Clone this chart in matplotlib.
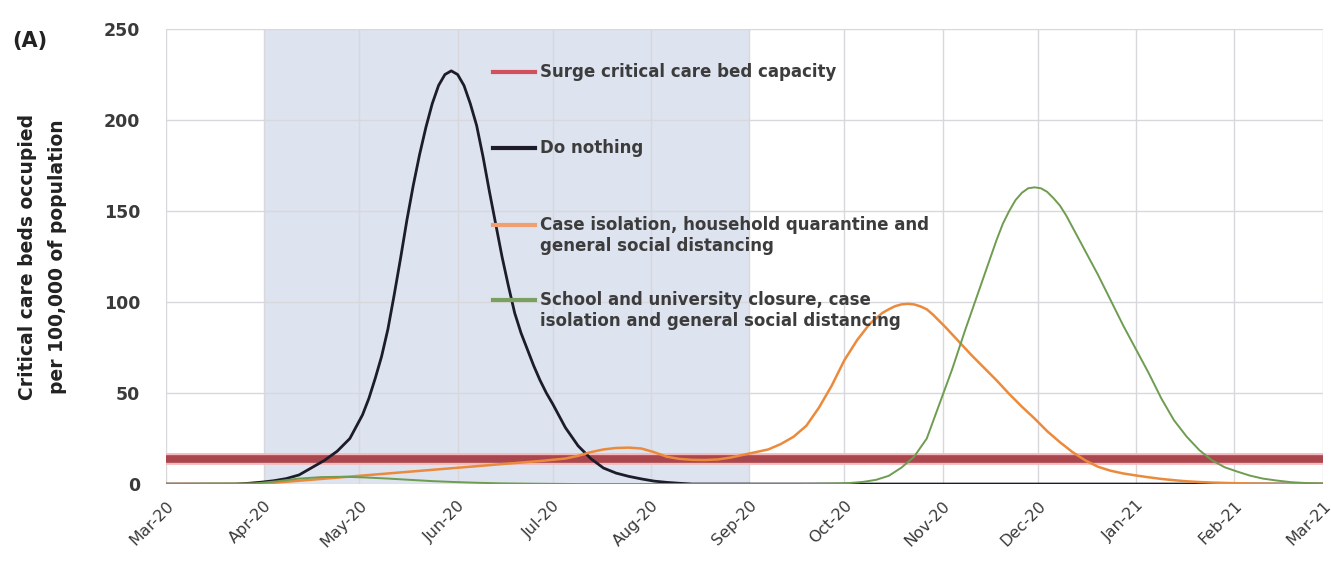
import numpy as np
import matplotlib
matplotlib.use("Agg")
import matplotlib.pyplot as plt
import matplotlib.dates as mdates
from matplotlib.lines import Line2D

plt.rcParams['font.family'] = ['DejaVu Sans']

START = np.datetime64('2020-03-01')
END = np.datetime64('2021-03-01')

# surge critical care bed capacity (beds per 100,000)
surge_capacity = 14

# "Do nothing" scenario, days after 1 Mar 2020
nothing_days = [0, 22, 26, 30, 34, 38, 42, 46, 50, 54, 58, 62, 64, 66, 68, 70, 72, 74, 76,
                78, 80, 82, 84, 86, 88, 90, 92, 94, 96, 98, 100, 102, 104, 106, 108, 110,
                112, 114, 116, 118, 120, 122, 126, 130, 134, 138, 142, 146, 150, 154, 158,
                162, 166, 365]
nothing_vals = [0, 0, 0.4, 1, 1.8, 3, 5, 9, 13, 18, 25, 38, 47, 58, 70, 85, 104, 124, 145,
                164, 181, 196, 209, 219, 225, 227, 225, 219, 209, 197, 180, 161, 143, 125, 109, 94,
                83, 74, 65, 57, 50, 44, 31, 21, 14, 8.8, 6, 4.2, 2.8, 1.6, 0.9,
                0.4, 0, 0]

# case isolation, household quarantine and general social distancing
case_days = [0, 28, 35, 42, 49, 56, 63, 70, 77, 84, 91, 98, 105, 112, 119, 126, 130, 134,
             138, 142, 146, 150, 154, 158, 162, 166, 170, 174, 178, 182, 186, 190, 194, 198,
             202, 206, 210, 214, 218, 222, 226, 228, 230, 232, 234, 236, 238, 240, 242, 246,
             250, 254, 258, 262, 266, 270, 274, 278, 282, 286, 290, 294, 298, 302, 306, 310,
             314, 318, 322, 326, 330, 336, 344, 352, 365]
case_vals = [0, 0, 0.8, 1.8, 2.8, 3.8, 4.8, 5.8, 6.8, 7.8, 8.8, 9.8, 10.8, 11.8, 12.8, 14, 15.5,
             17.5, 19, 19.8, 20, 19.5, 17.5, 15, 13.8, 13.3, 13.2, 13.5, 14.5, 16, 17.5, 19, 22,
             26, 32, 42, 54, 68, 79, 88, 94, 96, 97.7, 98.7, 99, 98.7, 97.6, 96, 93, 86,
             78.5, 71, 64, 57, 49.5, 42.5, 36, 29, 23, 17.5, 13, 9.5, 7.3, 5.8, 4.7, 3.7,
             2.8, 2.1, 1.5, 1.1, 0.8, 0.5, 0.2, 0, 0]

# school and university closure, case isolation and general social distancing
school_days = [0, 28, 35, 42, 49, 56, 63, 70, 77, 84, 91, 98, 105, 115, 130, 200, 212, 216,
               220, 224, 228, 232, 236, 240, 244, 248, 252, 256, 260, 262, 264, 266, 268, 270,
               272, 274, 276, 278, 280, 282, 284, 286, 290, 294, 298, 302, 306, 310, 314, 318,
               322, 326, 330, 334, 338, 342, 346, 350, 355, 360, 365]
school_vals = [0, 0.3, 1.5, 3, 3.8, 4, 3.6, 3, 2.3, 1.6, 1.1, 0.7, 0.4, 0.2, 0, 0, 0.3, 0.6,
               1.2, 2.3, 4.5, 9, 15, 25, 44, 63, 84, 104, 124, 134, 143, 150, 156, 160,
               162.5, 163, 162.5, 160.5, 157, 153, 147.5, 141, 128, 115, 101, 87, 74, 61, 47, 35,
               26, 18.6, 13, 9.2, 6.8, 4.6, 3, 2, 1, 0.5, 0.3]

shade_start = np.datetime64('2020-04-01')
shade_end = np.datetime64('2020-09-01')

legend_labels = [
    "Surge critical care bed capacity",
    "Do nothing",
    "Case isolation, household quarantine and\ngeneral social distancing",
    "School and university closure, case\nisolation and general social distancing",
]


def to_dates(days):
    return START + np.array(days, dtype='timedelta64[D]')


fig = plt.figure(figsize=(13.31, 5.72), dpi=100)
ax = fig.add_axes([0.1247, 0.1538, 0.8693, 0.7955])

ax.axvspan(shade_start, shade_end, color='#dde3ef', zorder=0, lw=0)

surge_color = '#a9464e'
black_color = '#1c1c2a'
orange_color = '#ec8a3c'
green_color = '#6e9c50'

ax.axhline(surge_capacity, color='#f4b9bd', lw=8.5, zorder=2, solid_capstyle='butt')
ax.axhline(surge_capacity, color=surge_color, lw=5.5, zorder=2, solid_capstyle='butt')
ax.plot(to_dates(nothing_days), nothing_vals, color=black_color, lw=2.0, zorder=3)
ax.plot(to_dates(case_days), case_vals, color=orange_color, lw=1.8, zorder=4)
ax.plot(to_dates(school_days), school_vals, color=green_color, lw=1.4, zorder=5)

ax.set_xlim(START, END)
ax.set_ylim(0, 250)
ax.set_yticks(range(0, 251, 50))
ax.xaxis.set_major_locator(mdates.MonthLocator())
ax.xaxis.set_major_formatter(mdates.DateFormatter('%b-%y'))
ax.grid(True, color='#d8d8dc', lw=1.0, zorder=1)
ax.set_axisbelow(True)
for s in ax.spines.values():
    s.set_visible(False)
ax.tick_params(length=0, labelcolor='#3a3a3a')
ax.tick_params(axis='y', pad=18.5, labelsize=12.5)
ax.tick_params(axis='x', pad=10, labelsize=11.5)
for lab in ax.get_yticklabels():
    lab.set_fontweight('bold')
for lab in ax.get_xticklabels():
    lab.set_rotation(45)
    lab.set_ha('right')
    lab.set_rotation_mode('anchor')

ax.set_ylabel("Critical care beds occupied\nper 100,000 of population",
              fontsize=13.5, fontweight='bold', color='#222222', linespacing=1.75)
ax.yaxis.set_label_coords(-0.0856, 0.5)
fig.text(0.009, 0.918, "(A)", fontsize=15, fontweight='bold', color='#222222')

# legend drawn inside the plot, one row per series
handle_colors = ['#d2505e', black_color, '#f0a070', '#7aa060']
row_y = [0.9055, 0.7385, 0.569, 0.4044]
for col, y, text in zip(handle_colors, row_y, legend_labels):
    ax.add_line(Line2D([0.2826, 0.3189], [y, y], transform=ax.transAxes,
                       color=col, lw=3, zorder=6))
    ax.text(0.3232, y + 0.02, text, transform=ax.transAxes, fontsize=12,
            fontweight='bold', color='#3c3c3c', va='top', ha='left', zorder=6,
            linespacing=1.2)

fig.savefig('out.png', dpi=100)
